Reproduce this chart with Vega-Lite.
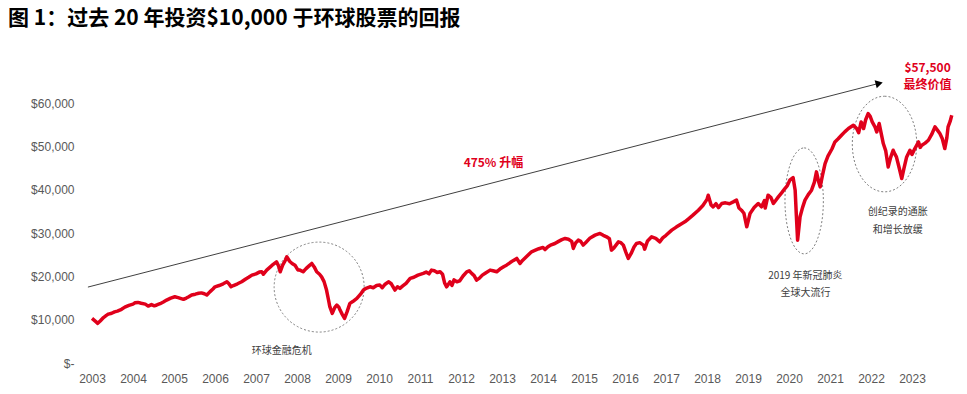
{
  "$schema": "https://vega.github.io/schema/vega-lite/v6.json",
  "width": 870,
  "height": 303,
  "autosize": {"type": "none"},
  "padding": {"left": 85, "top": 60, "right": 12, "bottom": 31},
  "background": "white",
  "config": {"view": {"stroke": null}},
  "title": {
    "text": "图 1：过去 20 年投资$10,000 于环球股票的回报",
    "anchor": "start",
    "frame": "group",
    "font": "Noto Sans CJK SC",
    "fontSize": 21,
    "fontWeight": "bold",
    "color": "#000000",
    "dx": -77,
    "dy": -27
  },
  "encoding": {
    "x": {
      "field": "t",
      "type": "quantitative",
      "scale": {"domain": [2002.829, 2024.049], "nice": false, "zero": false},
      "axis": {
        "values": [2003, 2004, 2005, 2006, 2007, 2008, 2009, 2010, 2011, 2012, 2013, 2014, 2015, 2016, 2017, 2018, 2019, 2020, 2021, 2022, 2023],
        "format": "d",
        "title": null,
        "grid": false,
        "domain": false,
        "ticks": false,
        "labelPadding": 10,
        "labelFont": "Liberation Sans",
        "labelFontSize": 12,
        "labelColor": "#595959"
      }
    },
    "y": {
      "field": "v",
      "type": "quantitative",
      "scale": {"domain": [0, 70000], "nice": false},
      "axis": {
        "values": [0, 10000, 20000, 30000, 40000, 50000, 60000],
        "labelExpr": "datum.value == 0 ? '$-' : '$' + format(datum.value, ',')",
        "title": null,
        "grid": false,
        "domain": false,
        "ticks": false,
        "labelPadding": 11,
        "labelFont": "Liberation Sans",
        "labelFontSize": 12,
        "labelColor": "#595959"
      }
    }
  },
  "layer": [
    {
      "data": {"values": [{"t": 2008.54, "v": 17538}]},
      "mark": {"type": "point", "shape": "circle", "size": 8100, "filled": false, "stroke": "#7f7f7f", "strokeWidth": 1, "strokeDash": [2, 2], "opacity": 1}
    },
    {
      "data": {"values": [{"t": 2020.37, "v": 37454}]},
      "mark": {"type": "point", "shape": "M 0 -1 A 0.362 1 0 1 1 0 1 A 0.362 1 0 1 1 0 -1 Z", "size": 11236, "filled": false, "stroke": "#7f7f7f", "strokeWidth": 1, "strokeDash": [2, 2], "opacity": 1}
    },
    {
      "data": {"values": [{"t": 2022.33, "v": 50585}]},
      "mark": {"type": "point", "shape": "M 0 -1 A 0.674 1 0 1 1 0 1 A 0.674 1 0 1 1 0 -1 Z", "size": 9139, "filled": false, "stroke": "#7f7f7f", "strokeWidth": 1, "strokeDash": [2, 2], "opacity": 1}
    },
    {
      "data": {"values": [{"t": 2002.9, "v": 17538, "t2": 2022.2, "v2": 64615}]},
      "mark": {"type": "rule", "color": "#404040", "strokeWidth": 1},
      "encoding": {"x2": {"field": "t2"}, "y2": {"field": "v2"}}
    },
    {
      "data": {"values": [{"t": 2022.2, "v": 64615}]},
      "mark": {"type": "point", "shape": "triangle-right", "size": 70, "filled": true, "color": "#000000", "angle": 345.5, "opacity": 1}
    },
    {
      "data": {"values": [
        {"t":2003.00,"v":10300},{"t":2003.05,"v":9900},{"t":2003.10,"v":9500},{"t":2003.14,"v":9160},{"t":2003.20,"v":9700},{"t":2003.28,"v":10500},{"t":2003.35,"v":11000},{"t":2003.40,"v":11300},{"t":2003.48,"v":11500},{"t":2003.55,"v":11800},{"t":2003.62,"v":12000},{"t":2003.72,"v":12400},{"t":2003.80,"v":12900},{"t":2003.90,"v":13300},
        {"t":2004.00,"v":13600},{"t":2004.05,"v":13900},{"t":2004.12,"v":14000},{"t":2004.20,"v":13800},{"t":2004.30,"v":13600},{"t":2004.37,"v":13150},{"t":2004.45,"v":13500},{"t":2004.52,"v":13200},{"t":2004.58,"v":13400},{"t":2004.66,"v":13700},{"t":2004.74,"v":14100},{"t":2004.82,"v":14540},{"t":2004.92,"v":15000},
        {"t":2005.02,"v":15300},{"t":2005.10,"v":15100},{"t":2005.23,"v":14700},{"t":2005.30,"v":15000},{"t":2005.36,"v":15300},{"t":2005.43,"v":15700},{"t":2005.52,"v":15900},{"t":2005.60,"v":16100},{"t":2005.67,"v":16200},{"t":2005.74,"v":16000},{"t":2005.80,"v":15700},{"t":2005.88,"v":16500},{"t":2005.95,"v":17100},
        {"t":2006.00,"v":17600},{"t":2006.10,"v":17900},{"t":2006.20,"v":18300},{"t":2006.29,"v":18760},{"t":2006.34,"v":18300},{"t":2006.39,"v":17600},{"t":2006.45,"v":17900},{"t":2006.55,"v":18300},{"t":2006.65,"v":18760},{"t":2006.75,"v":19400},{"t":2006.82,"v":19800},{"t":2006.90,"v":20300},
        {"t":2007.00,"v":20600},{"t":2007.08,"v":21000},{"t":2007.14,"v":21070},{"t":2007.18,"v":20500},{"t":2007.26,"v":21460},{"t":2007.35,"v":22200},{"t":2007.42,"v":22800},{"t":2007.50,"v":23380},{"t":2007.55,"v":22400},{"t":2007.59,"v":21070},{"t":2007.65,"v":22600},{"t":2007.72,"v":23800},{"t":2007.75,"v":24530},{"t":2007.82,"v":23500},{"t":2007.88,"v":23000},{"t":2007.95,"v":22600},
        {"t":2008.02,"v":21500},{"t":2008.07,"v":21460},{"t":2008.15,"v":21070},{"t":2008.22,"v":21800},{"t":2008.30,"v":22500},{"t":2008.36,"v":23000},{"t":2008.42,"v":22200},{"t":2008.48,"v":21070},{"t":2008.55,"v":20500},{"t":2008.60,"v":19900},{"t":2008.66,"v":18800},{"t":2008.72,"v":16850},{"t":2008.77,"v":14500},{"t":2008.80,"v":13000},{"t":2008.86,"v":11470},{"t":2008.92,"v":12800},{"t":2008.97,"v":13380},
        {"t":2009.02,"v":12900},{"t":2009.05,"v":12230},{"t":2009.10,"v":11300},{"t":2009.16,"v":10300},{"t":2009.22,"v":11800},{"t":2009.29,"v":13770},{"t":2009.36,"v":14200},{"t":2009.46,"v":14930},{"t":2009.55,"v":15900},{"t":2009.62,"v":16850},{"t":2009.70,"v":17300},{"t":2009.78,"v":17600},{"t":2009.86,"v":17400},{"t":2009.94,"v":17900},
        {"t":2010.02,"v":18000},{"t":2010.08,"v":17400},{"t":2010.15,"v":18200},{"t":2010.23,"v":18760},{"t":2010.30,"v":18300},{"t":2010.39,"v":16850},{"t":2010.45,"v":17600},{"t":2010.51,"v":17240},{"t":2010.58,"v":17800},{"t":2010.66,"v":18400},{"t":2010.76,"v":19550},{"t":2010.85,"v":19800},{"t":2010.95,"v":20300},
        {"t":2011.08,"v":20700},{"t":2011.15,"v":21000},{"t":2011.22,"v":20600},{"t":2011.28,"v":21460},{"t":2011.35,"v":21300},{"t":2011.42,"v":20900},{"t":2011.49,"v":21070},{"t":2011.55,"v":20500},{"t":2011.60,"v":18500},{"t":2011.65,"v":17600},{"t":2011.70,"v":18300},{"t":2011.73,"v":18760},{"t":2011.78,"v":17900},{"t":2011.83,"v":19200},{"t":2011.90,"v":18760},{"t":2011.97,"v":19000},
        {"t":2012.05,"v":20100},{"t":2012.14,"v":21070},{"t":2012.20,"v":21300},{"t":2012.26,"v":20700},{"t":2012.32,"v":20200},{"t":2012.38,"v":19150},{"t":2012.45,"v":19600},{"t":2012.52,"v":20300},{"t":2012.60,"v":20800},{"t":2012.71,"v":21460},{"t":2012.78,"v":21300},{"t":2012.87,"v":21070},{"t":2012.95,"v":21700},
        {"t":2013.05,"v":22300},{"t":2013.11,"v":22600},{"t":2013.20,"v":23200},{"t":2013.28,"v":23700},{"t":2013.36,"v":24160},{"t":2013.44,"v":23000},{"t":2013.50,"v":23700},{"t":2013.60,"v":24600},{"t":2013.72,"v":25690},{"t":2013.80,"v":26000},{"t":2013.90,"v":26400},
        {"t":2014.00,"v":26700},{"t":2014.05,"v":26200},{"t":2014.12,"v":26840},{"t":2014.20,"v":27300},{"t":2014.29,"v":27610},{"t":2014.38,"v":28100},{"t":2014.46,"v":28500},{"t":2014.54,"v":28770},{"t":2014.62,"v":28600},{"t":2014.70,"v":28100},{"t":2014.74,"v":26470},{"t":2014.80,"v":27800},{"t":2014.86,"v":28380},{"t":2014.92,"v":28100},{"t":2014.98,"v":27230},
        {"t":2015.05,"v":27900},{"t":2015.15,"v":28900},{"t":2015.27,"v":29540},{"t":2015.39,"v":29930},{"t":2015.47,"v":29500},{"t":2015.55,"v":29150},{"t":2015.62,"v":28700},{"t":2015.67,"v":26080},{"t":2015.73,"v":26600},{"t":2015.84,"v":27990},{"t":2015.90,"v":27800},{"t":2015.96,"v":27230},
        {"t":2016.02,"v":25600},{"t":2016.08,"v":24160},{"t":2016.15,"v":25300},{"t":2016.22,"v":26800},{"t":2016.28,"v":27610},{"t":2016.36,"v":27800},{"t":2016.45,"v":27230},{"t":2016.48,"v":26300},{"t":2016.55,"v":28200},{"t":2016.65,"v":29150},{"t":2016.75,"v":28800},{"t":2016.85,"v":27990},{"t":2016.92,"v":28900},
        {"t":2017.00,"v":29500},{"t":2017.14,"v":30690},{"t":2017.25,"v":31400},{"t":2017.35,"v":32000},{"t":2017.46,"v":32610},{"t":2017.55,"v":33300},{"t":2017.65,"v":34100},{"t":2017.79,"v":35300},{"t":2017.90,"v":36400},
        {"t":2018.00,"v":37800},{"t":2018.03,"v":38770},{"t":2018.10,"v":36500},{"t":2018.15,"v":36070},{"t":2018.22,"v":36800},{"t":2018.28,"v":35900},{"t":2018.36,"v":36850},{"t":2018.45,"v":37000},{"t":2018.55,"v":36800},{"t":2018.64,"v":37220},{"t":2018.72,"v":37620},{"t":2018.78,"v":35800},{"t":2018.84,"v":35300},{"t":2018.90,"v":34600},{"t":2018.97,"v":31460},
        {"t":2019.05,"v":34540},{"t":2019.15,"v":35900},{"t":2019.25,"v":36850},{"t":2019.33,"v":36070},{"t":2019.40,"v":37500},{"t":2019.42,"v":35800},{"t":2019.49,"v":38770},{"t":2019.56,"v":38200},{"t":2019.62,"v":36850},{"t":2019.68,"v":37600},{"t":2019.74,"v":38380},{"t":2019.82,"v":39300},{"t":2019.90,"v":40310},{"t":2019.96,"v":41000},
        {"t":2020.02,"v":42230},{"t":2020.10,"v":42850},{"t":2020.15,"v":39920},{"t":2020.18,"v":34000},{"t":2020.21,"v":28380},{"t":2020.25,"v":32000},{"t":2020.27,"v":33770},{"t":2020.33,"v":35900},{"t":2020.39,"v":37620},{"t":2020.47,"v":38900},{"t":2020.55,"v":39920},{"t":2020.62,"v":41800},{"t":2020.67,"v":44150},{"t":2020.72,"v":42000},{"t":2020.76,"v":40690},{"t":2020.82,"v":43500},{"t":2020.88,"v":46080},{"t":2020.95,"v":47800},
        {"t":2021.05,"v":49500},{"t":2021.12,"v":51070},{"t":2021.20,"v":51800},{"t":2021.28,"v":52610},{"t":2021.36,"v":53400},{"t":2021.45,"v":54160},{"t":2021.57,"v":54920},{"t":2021.65,"v":54160},{"t":2021.70,"v":53200},{"t":2021.76,"v":55690},{"t":2021.82,"v":54160},{"t":2021.87,"v":56200},{"t":2021.93,"v":57620},{"t":2021.98,"v":57000},
        {"t":2022.03,"v":55690},{"t":2022.10,"v":54500},{"t":2022.14,"v":53380},{"t":2022.20,"v":55320},{"t":2022.25,"v":53000},{"t":2022.30,"v":50700},{"t":2022.36,"v":49000},{"t":2022.42,"v":45300},{"t":2022.48,"v":47500},{"t":2022.54,"v":49150},{"t":2022.58,"v":48300},{"t":2022.62,"v":47610},{"t":2022.69,"v":45000},{"t":2022.75,"v":42620},{"t":2022.80,"v":44800},{"t":2022.87,"v":47610},{"t":2022.95,"v":49150},
        {"t":2023.00,"v":48200},{"t":2023.07,"v":49540},{"t":2023.16,"v":51070},{"t":2023.20,"v":49800},{"t":2023.24,"v":50310},{"t":2023.32,"v":50800},{"t":2023.40,"v":51460},{"t":2023.48,"v":52800},{"t":2023.56,"v":54540},{"t":2023.62,"v":53800},{"t":2023.68,"v":53000},{"t":2023.74,"v":51800},{"t":2023.80,"v":49540},{"t":2023.85,"v":52000},{"t":2023.88,"v":54540},{"t":2023.93,"v":55800},{"t":2023.97,"v":57230}
      ]},
      "mark": {"type": "line", "color": "#E0001B", "strokeWidth": 3.5, "strokeJoin": "round"}
    },
    {
      "data": {"values": [
        {"t": 2023.38, "v": 68077, "label": "$57,500"},
        {"t": 2023.38, "v": 64154, "label": "最终价值"},
        {"t": 2012.79, "v": 46154, "label": "475% 升幅"}
      ]},
      "mark": {"type": "text", "font": "Noto Sans CJK SC", "fontSize": 12, "fontWeight": "bold", "color": "#E0001B", "align": "center", "baseline": "middle"},
      "encoding": {"text": {"field": "label"}}
    },
    {
      "data": {"values": [
        {"t": 2007.63, "v": 2769, "label": "环球金融危机"},
        {"t": 2020.40, "v": 20077, "label": "2019 年新冠肺炎"},
        {"t": 2020.40, "v": 16154, "label": "全球大流行"},
        {"t": 2022.65, "v": 34846, "label": "创纪录的通胀"},
        {"t": 2022.65, "v": 30808, "label": "和增长放缓"}
      ]},
      "mark": {"type": "text", "font": "Noto Sans CJK SC", "fontSize": 10, "color": "#404040", "align": "center", "baseline": "middle"},
      "encoding": {"text": {"field": "label"}}
    }
  ]
}
